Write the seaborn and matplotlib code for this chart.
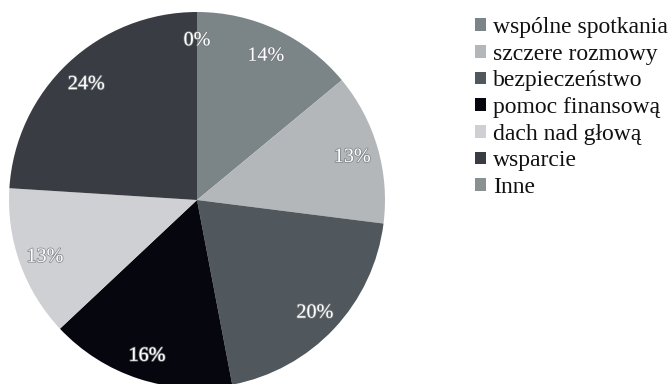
import matplotlib
matplotlib.use("Agg")
import matplotlib.pyplot as plt
import matplotlib.patheffects as pe
from matplotlib import font_manager as fm
import seaborn as sns

# Survey answers and their shares (%)
categories = ["wspólne spotkania", "szczere rozmowy", "bezpieczeństwo",
              "pomoc finansową", "dach nad głową", "wsparcie", "Inne"]
shares = [14, 13, 20, 16, 13, 24, 0]
colors = ["#7b8487", "#b4b7ba", "#50585d", "#06060e", "#cfd0d3", "#393c43", "#8a8f91"]

sns.set_theme(style="white")
serif_path = None
for f in fm.fontManager.ttflist:
    if f.name == "Liberation Serif" and f.style == "normal" and f.weight in (400, "normal"):
        serif_path = f.fname
        break
plt.rcParams["font.family"] = "serif"
plt.rcParams["font.serif"] = ["Liberation Serif", "DejaVu Serif"]
font = fm.FontProperties(fname=serif_path) if serif_path else fm.FontProperties(family="serif")
palette = sns.color_palette(colors)

fig = plt.figure(figsize=(6.71, 3.84), dpi=100)
W, H = 671, 384
cx, cy, r = 197, 200, 188
ax = fig.add_axes([(cx - r) / W, (H - cy - r) / H, 2 * r / W, 2 * r / H])

wedges, texts = ax.pie(
    shares, colors=palette, startangle=90, counterclock=False,
    labels=[f"{v}%" for v in shares], labeldistance=0.86,
    wedgeprops=dict(linewidth=0),
)
for t in texts:
    t.set_fontproperties(font)
    t.set_fontsize(14.5)
    t.set_color("white")
    t.set_ha("center")
    t.set_va("center_baseline")
    t.set_path_effects([pe.withStroke(linewidth=1.2, foreground="#7a7d80", alpha=0.8)])
ax.set_xlim(-1, 1)
ax.set_ylim(-1, 1)
ax.set_aspect("equal")
ax.axis("off")

legend_font = font.copy()
legend_font.set_size(17)
handles = [plt.Rectangle((0, 0), 1, 1, facecolor=c, edgecolor="none") for c in palette]
fig.legend(handles, categories, loc="upper left",
           bbox_to_anchor=(475 / W, 1 - 17 / H), frameon=False,
           prop=legend_font, handlelength=0.45, handleheight=0.45,
           handletextpad=0.3, labelspacing=0.24, borderpad=0,
           borderaxespad=0, labelcolor="#111111")

fig.savefig("out.png", dpi=100, facecolor="white")
